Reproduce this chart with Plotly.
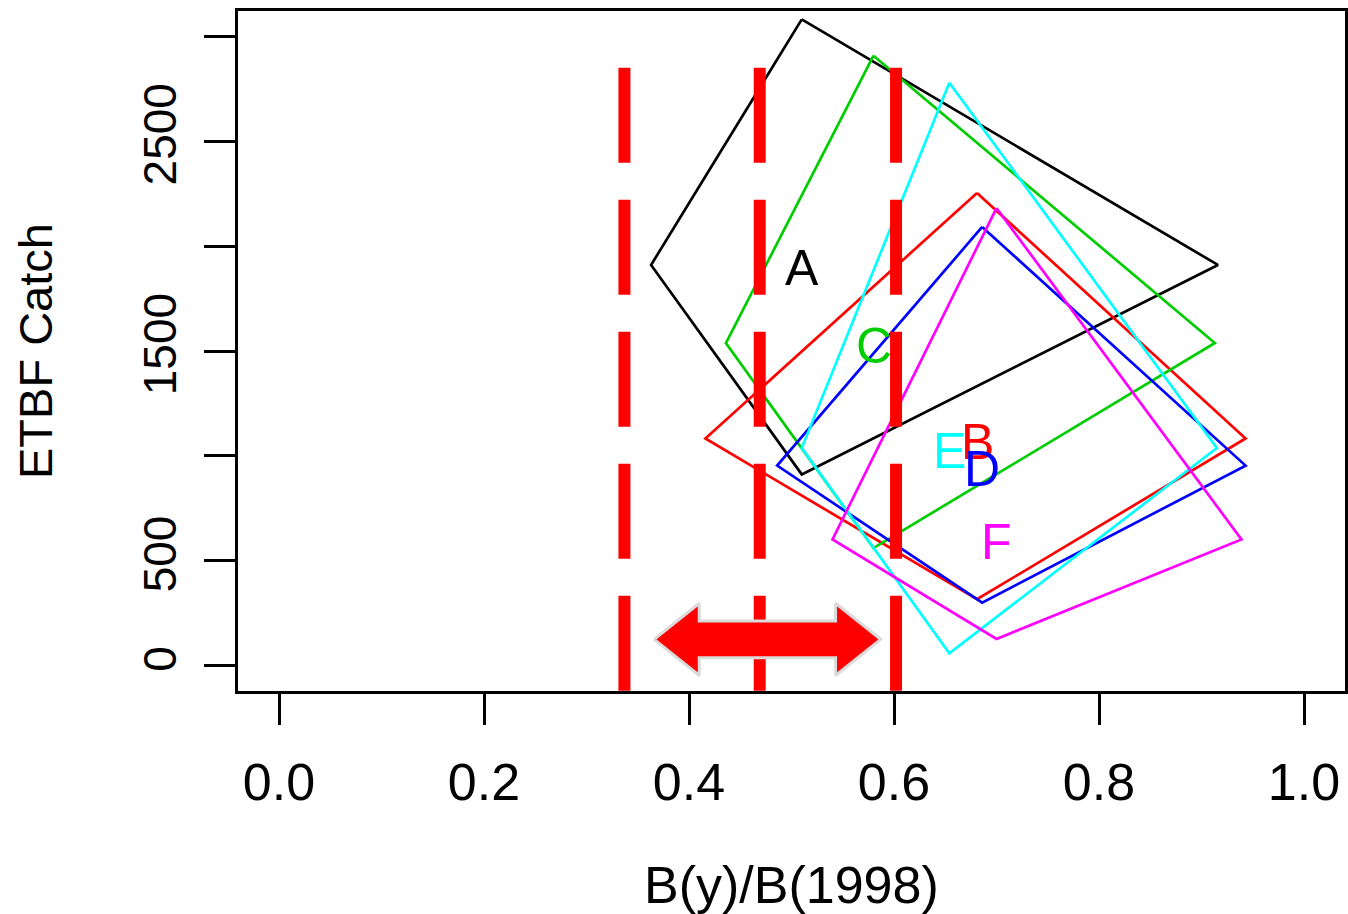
import plotly.graph_objects as go

# Stock-status boxes: depletion B(y)/B(1998) against ETBF catch
labels = ["A", "B", "C", "D", "E", "F"]
colors = ["#000000", "#FF0000", "#00CD00", "#0000FF", "#00FFFF", "#FF00FF"]
ratio_mid = [0.510, 0.681, 0.580, 0.686, 0.654, 0.700]
ratio_lo = [0.363, 0.416, 0.436, 0.486, 0.510, 0.540]
ratio_hi = [0.916, 0.943, 0.913, 0.943, 0.915, 0.939]
catch_mid = [1910, 1083, 1538, 954, 1038, 602]
catch_lo = [912, 317, 561, 301, 60, 128]
catch_hi = [3080, 2253, 2907, 2091, 2778, 2181]

# Reference depletion levels and the target range arrow
ref_levels = [0.337, 0.469, 0.602]
ref_top = 2850
arrow_from, arrow_to = 0.366, 0.587
arrow_level = 126

x_ticks = [0.0, 0.2, 0.4, 0.6, 0.8, 1.0]
x_ticktext = ["0.0", "0.2", "0.4", "0.6", "0.8", "1.0"]
y_ticks = [0, 500, 1000, 1500, 2000, 2500, 3000]
y_ticktext = ["0", "500", "", "1500", "", "2500", ""]

FONT = "Liberation Sans, Arial, Helvetica, sans-serif"
XR = [-0.04, 1.04]
YR = [-120, 3120]

fig = go.Figure()

# Kite-shaped regions: (mid, hi) -> (hi, mid) -> (mid, lo) -> (lo, mid)
for lab, col, xm, xl, xh, ym, yl, yh in zip(labels, colors, ratio_mid, ratio_lo,
                                            ratio_hi, catch_mid, catch_lo, catch_hi):
    fig.add_trace(go.Scatter(
        x=[xm, xh, xm, xl, xm],
        y=[yh, ym, yl, ym, yh],
        mode="lines",
        line=dict(color=col, width=2.7),
        hoverinfo="skip",
        showlegend=False,
    ))

# Dashed reference lines
for v in ref_levels:
    fig.add_trace(go.Scatter(
        x=[v, v], y=[ref_top, YR[0]],
        mode="lines",
        line=dict(color="#FF0000", width=12, dash="95px,37px"),
        hoverinfo="skip",
        showlegend=False,
    ))

# Double-headed block arrow spanning the target range
head_len = 0.044
shaft_half = 87
head_half = 172
ax = [arrow_from, arrow_from + head_len, arrow_from + head_len,
      arrow_to - head_len, arrow_to - head_len, arrow_to,
      arrow_to - head_len, arrow_to - head_len, arrow_from + head_len,
      arrow_from + head_len, arrow_from]
ay = [arrow_level, arrow_level + head_half, arrow_level + shaft_half,
      arrow_level + shaft_half, arrow_level + head_half, arrow_level,
      arrow_level - head_half, arrow_level - shaft_half, arrow_level - shaft_half,
      arrow_level - head_half, arrow_level]
fig.add_trace(go.Scatter(
    x=ax, y=ay, mode="lines", fill="toself",
    fillcolor="#FF0000",
    line=dict(color="#DADADA", width=3),
    hoverinfo="skip", showlegend=False,
))

# Region labels at the centre point
for lab, col, xm, ym in zip(labels, colors, ratio_mid, catch_mid):
    fig.add_annotation(
        x=xm, y=ym, text=lab, showarrow=False,
        font=dict(family=FONT, size=50, color=col),
        xanchor="center", yanchor="middle", yshift=-3,
    )

# Axis titles
fig.add_annotation(
    xref="paper", yref="paper", x=0.5, y=0, yshift=-194,
    text="B(y)/B(1998)", showarrow=False,
    font=dict(family=FONT, size=52, color="black"),
    xanchor="center", yanchor="middle",
)
fig.add_annotation(
    xref="paper", yref="paper", x=0, y=0.5, xshift=-203,
    text="ETBF Catch", showarrow=False, textangle=-90,
    font=dict(family=FONT, size=47, color="black"),
    xanchor="center", yanchor="middle",
)

fig.update_layout(
    width=1348, height=914,
    margin=dict(l=238, r=3, t=11, b=223),
    paper_bgcolor="white", plot_bgcolor="white",
    font=dict(family=FONT, color="black"),
    xaxis=dict(
        range=XR, tickvals=x_ticks, ticktext=x_ticktext,
        ticks="outside", ticklen=31, tickwidth=2.5, tickcolor="black",
        showline=True, mirror=True, linewidth=2.5, linecolor="black",
        showgrid=False, zeroline=False, automargin=False,
        tickfont=dict(family=FONT, size=52, color="black"),
        ticklabelstandoff=13,
    ),
    yaxis=dict(
        range=YR, tickvals=y_ticks, ticktext=y_ticktext,
        ticks="outside", ticklen=31, tickwidth=2.5, tickcolor="black",
        showline=True, mirror=True, linewidth=2.5, linecolor="black",
        showgrid=False, zeroline=False, automargin=False,
        tickangle=-90,
        tickfont=dict(family=FONT, size=46, color="black"),
        ticklabelstandoff=10,
    ),
)

fig.write_html("out.html")
